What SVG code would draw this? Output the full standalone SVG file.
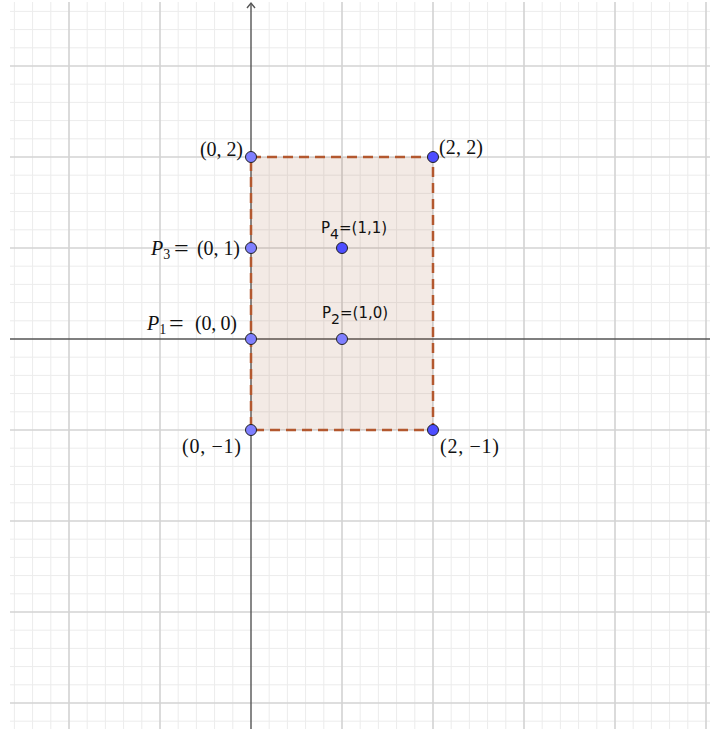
<svg xmlns="http://www.w3.org/2000/svg" width="710" height="729" viewBox="0 0 710 729">
<style>
.minor{stroke:#ececec;stroke-width:1;fill:none}
.major{stroke:#d3d3d3;stroke-width:1.6;fill:none}
.axis{stroke:#555;stroke-width:1.4;fill:none}
.pt{stroke:#222;stroke-width:1}
.pl{fill:#7f7fff}
.pd{fill:#4d4dff}
.tex{font-family:"Liberation Serif","DejaVu Serif",serif;font-size:20px;fill:#111}
.it{font-style:italic}
.eq{font-size:26px}
.sans{font-family:"DejaVu Sans","Liberation Sans",sans-serif;font-size:15px;fill:#111}
</style>
<rect width="710" height="729" fill="#fff"/>
<g id="grid">
<path class="minor" d="M14.4 2V729M32.6 2V729M50.8 2V729M87.2 2V729M105.4 2V729M123.6 2V729M141.8 2V729M178.2 2V729M196.4 2V729M214.6 2V729M232.8 2V729M269.2 2V729M287.4 2V729M305.6 2V729M323.8 2V729M360.2 2V729M378.4 2V729M396.6 2V729M414.8 2V729M451.2 2V729M469.4 2V729M487.6 2V729M505.8 2V729M542.2 2V729M560.4 2V729M578.6 2V729M596.8 2V729M633.2 2V729M651.4 2V729M669.6 2V729M687.8 2V729
M10 11.4H710M10 29.6H710M10 47.8H710M10 84.2H710M10 102.4H710M10 120.6H710M10 138.8H710M10 175.2H710M10 193.4H710M10 211.6H710M10 229.8H710M10 266.2H710M10 284.4H710M10 302.6H710M10 320.8H710M10 357.2H710M10 375.4H710M10 393.6H710M10 411.8H710M10 448.2H710M10 466.4H710M10 484.6H710M10 502.8H710M10 539.2H710M10 557.4H710M10 575.6H710M10 593.8H710M10 630.2H710M10 648.4H710M10 666.6H710M10 684.8H710M10 721.2H710"/>
<path class="major" d="M69 2V729M160 2V729M342 2V729M433 2V729M524 2V729M615 2V729M706 2V729
M10 66H710M10 157H710M10 248H710M10 430H710M10 521H710M10 612H710M10 703H710"/>
</g>
<g id="axes">
<path class="axis" d="M251 3V729M10 339H710"/>
<path class="axis" d="M247 8L251 3L255 8"/>
</g>
<g id="rectangle">
<rect x="251" y="157" width="182" height="273" fill="#a0522d" fill-opacity="0.12" stroke="#b3582f" stroke-width="2.5" stroke-dasharray="10,6"/>
</g>
<g id="pt-0-2"><circle class="pt pl" cx="251" cy="157" r="5.5"/><text class="tex" x="243" y="156" text-anchor="end" textLength="43">(0, 2)</text></g>
<g id="pt-2-2"><circle class="pt pd" cx="433" cy="157" r="5.5"/><text class="tex" x="439" y="154" textLength="44">(2, 2)</text></g>
<g id="pt-P3"><circle class="pt pl" cx="251" cy="248" r="5.5"/><text class="tex" x="151" y="255"><tspan class="it">P</tspan><tspan font-size="14" dy="4">3</tspan><tspan class="eq" dy="-2" x="174">=</tspan><tspan x="197" dy="-2" textLength="43">(0, 1)</tspan></text></g>
<g id="pt-P4"><circle class="pt pd" cx="342" cy="248" r="5.5"/><text class="sans" x="321" y="233">P<tspan font-size="14" dy="6">4</tspan><tspan dy="-6">=(1,1)</tspan></text></g>
<g id="pt-P1"><circle class="pt pl" cx="251" cy="339" r="5.5"/><text class="tex" x="147" y="330"><tspan class="it">P</tspan><tspan font-size="14" dy="4">1</tspan><tspan class="eq" dy="-2" x="169">=</tspan><tspan x="195" dy="-2" textLength="42">(0, 0)</tspan></text></g>
<g id="pt-P2"><circle class="pt pl" cx="342" cy="339" r="5.5"/><text class="sans" x="322" y="318">P<tspan font-size="14" dy="6">2</tspan><tspan dy="-6">=(1,0)</tspan></text></g>
<g id="pt-0-m1"><circle class="pt pl" cx="251" cy="430" r="5.5"/><text class="tex" x="182" y="453" textLength="59">(0, −1)</text></g>
<g id="pt-2-m1"><circle class="pt pd" cx="433" cy="430" r="5.5"/><text class="tex" x="440" y="453" textLength="59">(2, −1)</text></g>
</svg>
